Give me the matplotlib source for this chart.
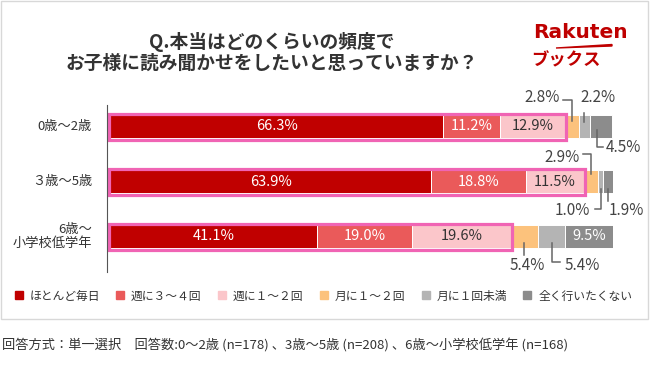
import matplotlib.pyplot as plt
from matplotlib.patches import Rectangle, Polygon
from matplotlib.lines import Line2D
import numpy as np

plt.rcParams['font.family'] = ['Noto Sans CJK JP', 'DejaVu Sans']

categories = ["0歳～2歳", "３歳～5歳", "6歳～\n小学校低学年"]
answers = ["ほとんど毎日", "週に３～４回", "週に１～２回", "月に１～２回", "月に１回未満", "全く行いたくない"]
age0_2 = [66.3, 11.2, 12.9, 2.8, 2.2, 4.5]
age3_5 = [63.9, 18.8, 11.5, 2.9, 1.0, 1.9]
age6_up = [41.1, 19.0, 19.6, 5.4, 5.4, 9.5]
colors = ["#c00000", "#ea5a5a", "#fbc6ca", "#fcc27c", "#b4b4b4", "#8c8c8c"]
text_colors = ["white", "white", "#333333", "#333333", "#333333", "white"]

title1 = "Q.本当はどのくらいの頻度で"
title2 = "お子様に読み聞かせをしたいと思っていますか？"
note = "回答方式：単一選択　回答数:0～2歳 (n=178) 、3歳～5歳 (n=208) 、6歳～小学校低学年 (n=168)"

data = np.array([age0_2, age3_5, age6_up])

W, H = 650, 370
fig = plt.figure(figsize=(6.5, 3.7), dpi=100)


def fx(px):
    return px / W


def fy(py):
    return 1 - py / H


# outer frame
fig.patches.append(Rectangle((fx(1), fy(319)), fx(647), 318 / H, transform=fig.transFigure,
                             fill=False, edgecolor="#d8d8d8", lw=1))

# title
fig.text(fx(272), fy(42), title1, ha="center", va="center", fontsize=13.5, fontweight="bold", color="#333333")
fig.text(fx(272), fy(63), title2, ha="center", va="center", fontsize=13.5, fontweight="bold", color="#333333")

# logo
fig.text(fx(580), fy(33), "Rakuten", ha="center", va="center", fontsize=14.5, fontweight="bold",
         color="#bf0000", family="DejaVu Sans")
fig.text(fx(566), fy(60), "ブックス", ha="center", va="center", fontsize=12.5, fontweight="bold", color="#bf0000")
fig.patches.append(Polygon([(fx(556), fy(48)), (fx(612), fy(44.5)), (fx(612), fy(46))],
                           closed=True, transform=fig.transFigure, color="#bf0000"))

# bars
ax_l, ax_w, ax_top, ax_bot = 110, 503, 100, 265
ax = fig.add_axes([fx(ax_l), fy(ax_bot), ax_w / W, (ax_bot - ax_top) / H])
row_px = 55
ax.set_xlim(0, 100)
ax.set_ylim(2 + (ax_bot - 236.5) / row_px, -(126.5 - ax_top) / row_px)
ax.axis("off")

px_x = 100 / ax_w
px_y = 1 / row_px
ypos = np.arange(len(categories))
bar_h = 23 / row_px

lefts = np.zeros(len(categories))
for j in range(len(answers)):
    ax.barh(ypos, data[:, j], left=lefts, height=bar_h, color=colors[j],
            edgecolor="white", linewidth=0.7, label=answers[j])
    lefts = lefts + data[:, j]

cum = np.cumsum(data, axis=1)
centers = cum - data / 2

# pink boxes around first three segments
for i in ypos:
    pad = 1.5
    ax.add_patch(Rectangle((-pad * px_x, i - bar_h / 2 - pad * px_y),
                           cum[i, 2] + 2 * pad * px_x, bar_h + 2 * pad * px_y,
                           fill=False, edgecolor="#f064b4", lw=2.3, clip_on=False, zorder=4))

# leader lines for small segments: path offsets (px) from segment/bar center, label offset (px)
leaders = {
    (0, 3): ([(0, -5.5), (0, -26.5), (-9, -26.5)], (-30, -29.5)),
    (0, 4): ([(0, -4.5), (0, -13.5)], (13.5, -29.5)),
    (0, 5): ([(-4, 3.5), (-4, 20.5), (2, 20.5)], (22, 21.5)),
    (1, 3): ([(0, -8), (0, -28), (-8, -28)], (-29, -24.5)),
    (1, 4): ([(0, 7), (0, 27), (-6, 27)], (-29, 29)),
    (1, 5): ([(0, 7), (0, 19)], (18, 29)),
    (2, 3): ([(0, 6.5), (0, 18.5)], (2.3, 28.5)),
    (2, 4): ([(0, 6.5), (0, 25.5), (8, 25.5)], (31, 28.5)),
}

for i in ypos:
    for j in range(len(answers)):
        v = data[i, j]
        cx = centers[i, j]
        lab = f"{v:.1f}%"
        if (i, j) in leaders:
            path, (lx, ly) = leaders[(i, j)]
            xs = [cx + dx * px_x for dx, dy in path]
            ys = [i + dy * px_y for dx, dy in path]
            ax.add_line(Line2D(xs, ys, color="#666666", lw=1.1, clip_on=False, zorder=5))
            ax.text(cx + lx * px_x, i + ly * px_y, lab, ha="center", va="center",
                    fontsize=11, color="#444444", clip_on=False)
        else:
            ax.text(cx, i, lab, ha="center", va="center", fontsize=10.5,
                    color=text_colors[j], zorder=6)

# category labels
for i, c in enumerate(categories):
    ax.text(-18 * px_x, i, c, ha="right", va="center", fontsize=9.5, color="#333333",
            linespacing=1.1, multialignment="right")

# vertical axis line
fig.lines.append(Line2D([fx(106.5), fx(106.5)], [fy(105), fy(272)], transform=fig.transFigure,
                        color="#555555", lw=0.8))

# legend
handles = [Line2D([], [], marker="s", linestyle="none", markersize=5.5, color=c) for c in colors]
fig.legend(handles, answers, loc="center left", bbox_to_anchor=(fx(15), fy(296)), ncol=6,
           frameon=False, fontsize=8.5, handlelength=0.6, handletextpad=0.6,
           columnspacing=1.45, borderpad=0, borderaxespad=0, labelcolor="#333333")

fig.text(fx(2), fy(346), note, ha="left", va="center", fontsize=9.5, color="#333333")

fig.savefig("out.png", dpi=100)
